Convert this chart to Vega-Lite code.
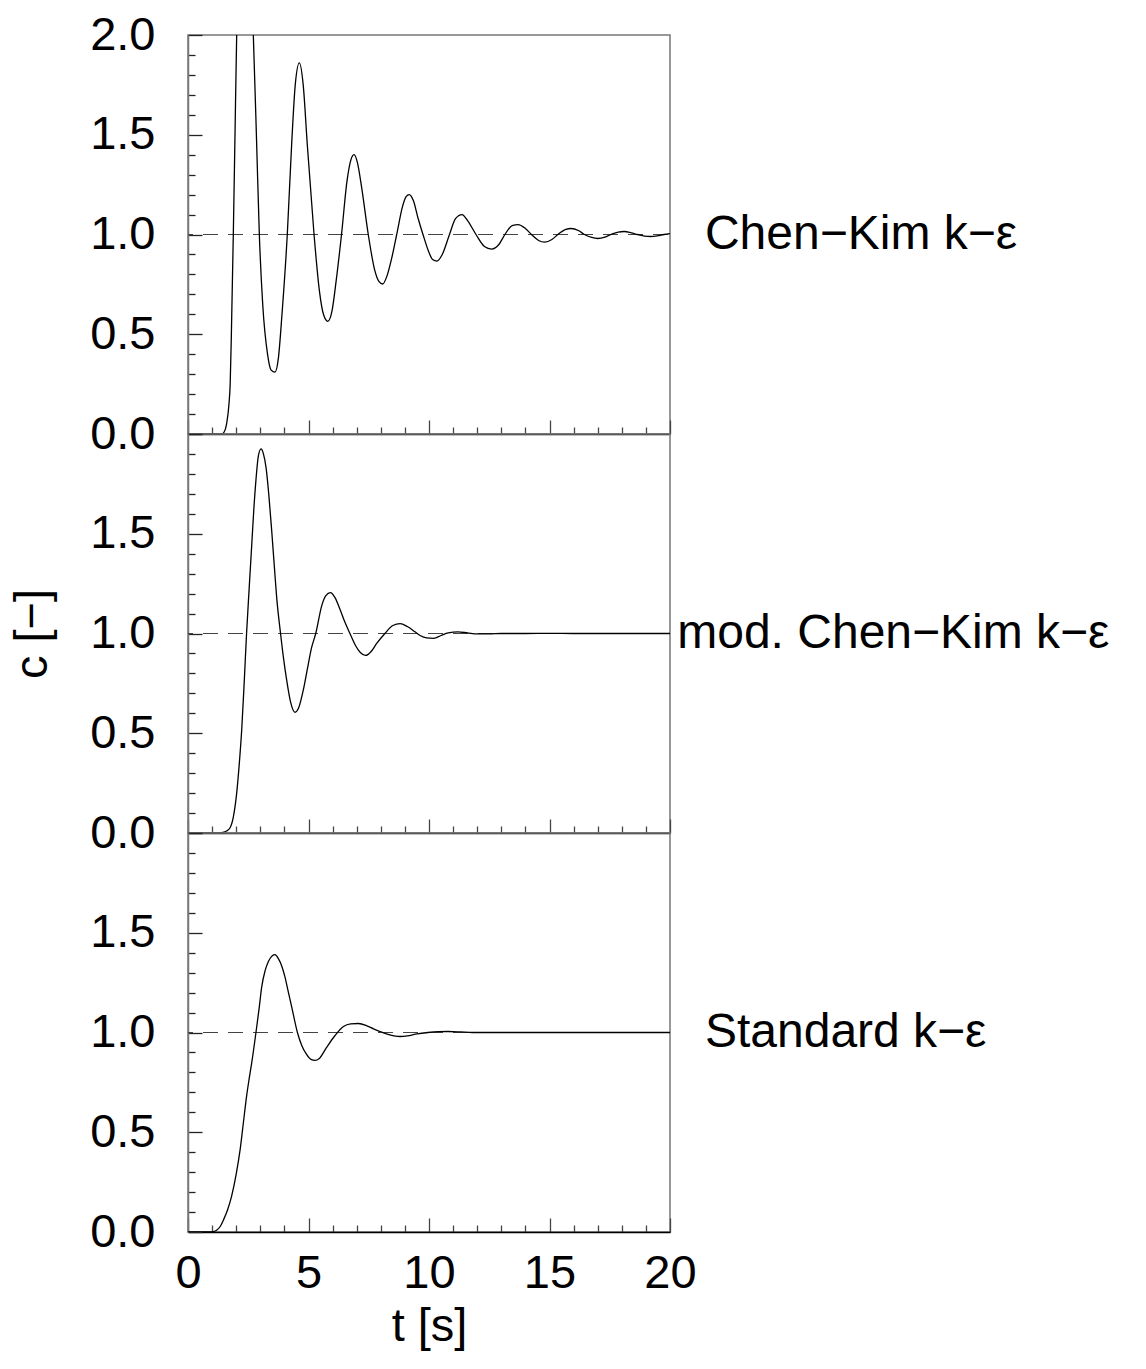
{
  "$schema": "https://vega.github.io/schema/vega-lite/v6.json",
  "padding": {"left": 7, "top": 10, "right": 5, "bottom": 5},
  "spacing": 0,
  "bounds": "flush",
  "config": {
    "font": "Liberation Sans",
    "view": {"stroke": "#777777", "strokeWidth": 1.5},
    "axis": {
      "grid": false,
      "labelFont": "Liberation Sans",
      "titleFont": "Liberation Sans",
      "labelFontSize": 47,
      "titleFontSize": 47,
      "titleFontWeight": "normal",
      "labelColor": "black",
      "titleColor": "black",
      "labelOverlap": false,
      "labelFlush": false,
      "labelBound": false,
      "tickCount": 100
    }
  },
  "datasets": {
    "curves": [
      {"model": "ck", "t": 0, "c": 0}, {"model": "ck", "t": 1.0, "c": 0}, {"model": "ck", "t": 1.4, "c": 0},
      {"model": "ck", "t": 1.5, "c": 0.01}, {"model": "ck", "t": 1.6, "c": 0.05}, {"model": "ck", "t": 1.7, "c": 0.15},
      {"model": "ck", "t": 1.75, "c": 0.25}, {"model": "ck", "t": 1.8, "c": 0.5}, {"model": "ck", "t": 1.88, "c": 1.0},
      {"model": "ck", "t": 1.95, "c": 1.5}, {"model": "ck", "t": 2.02, "c": 2.0}, {"model": "ck", "t": 2.15, "c": 2.4},
      {"model": "ck", "t": 2.35, "c": 2.6}, {"model": "ck", "t": 2.55, "c": 2.4}, {"model": "ck", "t": 2.71, "c": 2.0},
      {"model": "ck", "t": 2.85, "c": 1.45}, {"model": "ck", "t": 2.96, "c": 1.0}, {"model": "ck", "t": 3.1, "c": 0.65},
      {"model": "ck", "t": 3.3, "c": 0.4}, {"model": "ck", "t": 3.45, "c": 0.32}, {"model": "ck", "t": 3.61, "c": 0.31},
      {"model": "ck", "t": 3.75, "c": 0.38}, {"model": "ck", "t": 3.9, "c": 0.6}, {"model": "ck", "t": 4.12, "c": 1.0},
      {"model": "ck", "t": 4.3, "c": 1.45}, {"model": "ck", "t": 4.45, "c": 1.75}, {"model": "ck", "t": 4.62, "c": 1.86},
      {"model": "ck", "t": 4.78, "c": 1.75}, {"model": "ck", "t": 4.95, "c": 1.45}, {"model": "ck", "t": 5.23, "c": 1.0},
      {"model": "ck", "t": 5.45, "c": 0.72}, {"model": "ck", "t": 5.62, "c": 0.6}, {"model": "ck", "t": 5.8, "c": 0.565},
      {"model": "ck", "t": 5.98, "c": 0.62}, {"model": "ck", "t": 6.15, "c": 0.77}, {"model": "ck", "t": 6.37, "c": 1.0},
      {"model": "ck", "t": 6.6, "c": 1.27}, {"model": "ck", "t": 6.75, "c": 1.37}, {"model": "ck", "t": 6.89, "c": 1.4},
      {"model": "ck", "t": 7.03, "c": 1.36}, {"model": "ck", "t": 7.2, "c": 1.24}, {"model": "ck", "t": 7.48, "c": 1.0},
      {"model": "ck", "t": 7.75, "c": 0.82}, {"model": "ck", "t": 7.92, "c": 0.765}, {"model": "ck", "t": 8.08, "c": 0.752},
      {"model": "ck", "t": 8.25, "c": 0.79}, {"model": "ck", "t": 8.45, "c": 0.88}, {"model": "ck", "t": 8.66, "c": 1.0},
      {"model": "ck", "t": 8.9, "c": 1.14}, {"model": "ck", "t": 9.05, "c": 1.19}, {"model": "ck", "t": 9.18, "c": 1.2},
      {"model": "ck", "t": 9.35, "c": 1.17}, {"model": "ck", "t": 9.55, "c": 1.08}, {"model": "ck", "t": 9.75, "c": 1.0},
      {"model": "ck", "t": 10.0, "c": 0.91}, {"model": "ck", "t": 10.15, "c": 0.875}, {"model": "ck", "t": 10.33, "c": 0.867},
      {"model": "ck", "t": 10.55, "c": 0.9}, {"model": "ck", "t": 10.85, "c": 1.0}, {"model": "ck", "t": 11.1, "c": 1.08},
      {"model": "ck", "t": 11.37, "c": 1.1}, {"model": "ck", "t": 11.6, "c": 1.07}, {"model": "ck", "t": 11.95, "c": 1.0},
      {"model": "ck", "t": 12.3, "c": 0.94}, {"model": "ck", "t": 12.6, "c": 0.927}, {"model": "ck", "t": 12.9, "c": 0.95},
      {"model": "ck", "t": 13.15, "c": 1.0}, {"model": "ck", "t": 13.45, "c": 1.045}, {"model": "ck", "t": 13.7, "c": 1.05},
      {"model": "ck", "t": 14.0, "c": 1.03}, {"model": "ck", "t": 14.25, "c": 1.0}, {"model": "ck", "t": 14.55, "c": 0.97},
      {"model": "ck", "t": 14.8, "c": 0.962}, {"model": "ck", "t": 15.1, "c": 0.975}, {"model": "ck", "t": 15.35, "c": 1.0},
      {"model": "ck", "t": 15.65, "c": 1.025}, {"model": "ck", "t": 15.9, "c": 1.03}, {"model": "ck", "t": 16.2, "c": 1.02},
      {"model": "ck", "t": 16.45, "c": 1.0}, {"model": "ck", "t": 16.75, "c": 0.985}, {"model": "ck", "t": 17.0, "c": 0.98},
      {"model": "ck", "t": 17.3, "c": 0.987}, {"model": "ck", "t": 17.55, "c": 1.0}, {"model": "ck", "t": 17.85, "c": 1.012},
      {"model": "ck", "t": 18.1, "c": 1.015}, {"model": "ck", "t": 18.4, "c": 1.008}, {"model": "ck", "t": 18.65, "c": 1.0},
      {"model": "ck", "t": 18.95, "c": 0.992}, {"model": "ck", "t": 19.2, "c": 0.99}, {"model": "ck", "t": 19.5, "c": 0.994},
      {"model": "ck", "t": 19.75, "c": 1.0}, {"model": "ck", "t": 20.0, "c": 1.004},

      {"model": "mod", "t": 0, "c": 0}, {"model": "mod", "t": 1.2, "c": 0}, {"model": "mod", "t": 1.45, "c": 0.003},
      {"model": "mod", "t": 1.6, "c": 0.01}, {"model": "mod", "t": 1.74, "c": 0.025}, {"model": "mod", "t": 1.88, "c": 0.08},
      {"model": "mod", "t": 2.02, "c": 0.2}, {"model": "mod", "t": 2.13, "c": 0.35}, {"model": "mod", "t": 2.23, "c": 0.52},
      {"model": "mod", "t": 2.33, "c": 0.75}, {"model": "mod", "t": 2.43, "c": 1.0}, {"model": "mod", "t": 2.54, "c": 1.23},
      {"model": "mod", "t": 2.64, "c": 1.435}, {"model": "mod", "t": 2.73, "c": 1.62}, {"model": "mod", "t": 2.82, "c": 1.77},
      {"model": "mod", "t": 2.92, "c": 1.89}, {"model": "mod", "t": 3.03, "c": 1.925}, {"model": "mod", "t": 3.13, "c": 1.9},
      {"model": "mod", "t": 3.24, "c": 1.83}, {"model": "mod", "t": 3.35, "c": 1.7}, {"model": "mod", "t": 3.47, "c": 1.52},
      {"model": "mod", "t": 3.58, "c": 1.34}, {"model": "mod", "t": 3.68, "c": 1.18}, {"model": "mod", "t": 3.84, "c": 1.0},
      {"model": "mod", "t": 3.97, "c": 0.87}, {"model": "mod", "t": 4.09, "c": 0.77}, {"model": "mod", "t": 4.25, "c": 0.66},
      {"model": "mod", "t": 4.44, "c": 0.605}, {"model": "mod", "t": 4.6, "c": 0.63}, {"model": "mod", "t": 4.79, "c": 0.72},
      {"model": "mod", "t": 4.95, "c": 0.82}, {"model": "mod", "t": 5.13, "c": 0.93}, {"model": "mod", "t": 5.3, "c": 1.0},
      {"model": "mod", "t": 5.55, "c": 1.14}, {"model": "mod", "t": 5.72, "c": 1.19}, {"model": "mod", "t": 5.91, "c": 1.205},
      {"model": "mod", "t": 6.1, "c": 1.18}, {"model": "mod", "t": 6.31, "c": 1.12}, {"model": "mod", "t": 6.5, "c": 1.06},
      {"model": "mod", "t": 6.72, "c": 1.0}, {"model": "mod", "t": 6.95, "c": 0.94}, {"model": "mod", "t": 7.15, "c": 0.905},
      {"model": "mod", "t": 7.37, "c": 0.89}, {"model": "mod", "t": 7.6, "c": 0.91}, {"model": "mod", "t": 7.83, "c": 0.95},
      {"model": "mod", "t": 8.17, "c": 1.0}, {"model": "mod", "t": 8.5, "c": 1.04}, {"model": "mod", "t": 8.8, "c": 1.05},
      {"model": "mod", "t": 9.1, "c": 1.035}, {"model": "mod", "t": 9.4, "c": 1.01}, {"model": "mod", "t": 9.63, "c": 0.99},
      {"model": "mod", "t": 9.9, "c": 0.978}, {"model": "mod", "t": 10.2, "c": 0.976}, {"model": "mod", "t": 10.5, "c": 0.99},
      {"model": "mod", "t": 10.8, "c": 1.003}, {"model": "mod", "t": 11.2, "c": 1.008}, {"model": "mod", "t": 11.6, "c": 1.003},
      {"model": "mod", "t": 12.0, "c": 0.998}, {"model": "mod", "t": 12.5, "c": 0.998}, {"model": "mod", "t": 13.0, "c": 1.0},
      {"model": "mod", "t": 14.0, "c": 1.0}, {"model": "mod", "t": 15.0, "c": 1.001}, {"model": "mod", "t": 16.0, "c": 1.0},
      {"model": "mod", "t": 17.0, "c": 1.0}, {"model": "mod", "t": 18.0, "c": 1.0}, {"model": "mod", "t": 19.0, "c": 1.0},
      {"model": "mod", "t": 20.0, "c": 1.0},

      {"model": "std", "t": 0, "c": 0}, {"model": "std", "t": 0.9, "c": 0}, {"model": "std", "t": 1.05, "c": 0.002},
      {"model": "std", "t": 1.2, "c": 0.01}, {"model": "std", "t": 1.35, "c": 0.03}, {"model": "std", "t": 1.47, "c": 0.06},
      {"model": "std", "t": 1.64, "c": 0.11}, {"model": "std", "t": 1.81, "c": 0.18}, {"model": "std", "t": 2.0, "c": 0.29},
      {"model": "std", "t": 2.16, "c": 0.41}, {"model": "std", "t": 2.3, "c": 0.55}, {"model": "std", "t": 2.43, "c": 0.68},
      {"model": "std", "t": 2.54, "c": 0.77}, {"model": "std", "t": 2.64, "c": 0.845}, {"model": "std", "t": 2.82, "c": 1.0},
      {"model": "std", "t": 2.95, "c": 1.12}, {"model": "std", "t": 3.06, "c": 1.23}, {"model": "std", "t": 3.2, "c": 1.31},
      {"model": "std", "t": 3.35, "c": 1.36}, {"model": "std", "t": 3.5, "c": 1.385}, {"model": "std", "t": 3.61, "c": 1.39},
      {"model": "std", "t": 3.75, "c": 1.37}, {"model": "std", "t": 3.9, "c": 1.33}, {"model": "std", "t": 4.02, "c": 1.28},
      {"model": "std", "t": 4.15, "c": 1.21}, {"model": "std", "t": 4.3, "c": 1.13}, {"model": "std", "t": 4.54, "c": 1.0},
      {"model": "std", "t": 4.72, "c": 0.935}, {"model": "std", "t": 4.92, "c": 0.89}, {"model": "std", "t": 5.1, "c": 0.865},
      {"model": "std", "t": 5.27, "c": 0.86}, {"model": "std", "t": 5.45, "c": 0.87}, {"model": "std", "t": 5.75, "c": 0.925},
      {"model": "std", "t": 6.1, "c": 0.985}, {"model": "std", "t": 6.45, "c": 1.03}, {"model": "std", "t": 6.75, "c": 1.043},
      {"model": "std", "t": 7.07, "c": 1.045}, {"model": "std", "t": 7.4, "c": 1.035}, {"model": "std", "t": 7.7, "c": 1.018},
      {"model": "std", "t": 7.97, "c": 1.005}, {"model": "std", "t": 8.3, "c": 0.99}, {"model": "std", "t": 8.6, "c": 0.982},
      {"model": "std", "t": 8.8, "c": 0.98}, {"model": "std", "t": 9.1, "c": 0.983}, {"model": "std", "t": 9.5, "c": 0.993},
      {"model": "std", "t": 9.96, "c": 1.0}, {"model": "std", "t": 10.4, "c": 1.004}, {"model": "std", "t": 10.8, "c": 1.005},
      {"model": "std", "t": 11.3, "c": 1.003}, {"model": "std", "t": 11.8, "c": 1.0}, {"model": "std", "t": 13.0, "c": 1.0},
      {"model": "std", "t": 14.0, "c": 1.0}, {"model": "std", "t": 15.0, "c": 1.0}, {"model": "std", "t": 16.0, "c": 1.0},
      {"model": "std", "t": 17.0, "c": 1.0}, {"model": "std", "t": 18.0, "c": 1.0}, {"model": "std", "t": 19.0, "c": 1.0},
      {"model": "std", "t": 20.0, "c": 1.0}
    ]
  },
  "vconcat": [
    {
      "width": 482,
      "height": 399,
      "layer": [
        {
          "data": {"values": [{"c": 1}]},
          "mark": {"type": "rule", "strokeDash": [15, 10], "strokeDashOffset": 23, "color": "#444444", "strokeWidth": 1.2},
          "encoding": {
            "y": {"field": "c", "type": "quantitative", "scale": {"domain": [0, 2], "nice": false}}
          }
        },
        {
          "data": {"name": "curves"},
          "transform": [{"filter": "datum.model === 'ck'"}],
          "mark": {"type": "line", "color": "black", "strokeWidth": 1.3, "interpolate": "monotone", "clip": true},
          "encoding": {
            "x": {
              "field": "t", "type": "quantitative",
              "scale": {"domain": [0, 20], "nice": false, "zero": false},
              "axis": {
                "values": [0,1,2,3,4,5,6,7,8,9,10,11,12,13,14,15,16,17,18,19,20],
                "tickCount": 100,
                "tickSize": {"condition": {"test": "datum.value % 5 === 0", "value": -14}, "value": -7},
                "labels": false,
                "title": null,
                "domainColor": "black",
                "domainWidth": 1.6,
                "tickColor": "#444444",
                "tickWidth": 1.3
              }
            },
            "y": {
              "field": "c", "type": "quantitative",
              "scale": {"domain": [0, 2], "nice": false},
              "axis": {
                "values": [0,0.1,0.2,0.3,0.4,0.5,0.6,0.7,0.8,0.9,1,1.1,1.2,1.3,1.4,1.5,1.6,1.7,1.8,1.9,2],
                "tickCount": 100,
                "tickSize": {"condition": {"test": "round(datum.value*2) === datum.value*2", "value": -14}, "value": -7},
                "labelExpr": "round(datum.value*2) === datum.value*2 ? format(datum.value, '.1f') : ''",
                "labelPadding": 47,
                "title": null,
                "domainColor": "#777777",
                "domainWidth": 1.5,
                "tickColor": "#222222",
                "tickWidth": 1.3
              }
            }
          }
        },
        {
          "data": {"values": [{"label": "Chen−Kim k−ε", "t": 21.45, "c": 1}]},
          "mark": {"type": "text", "align": "left", "baseline": "middle", "fontSize": 48, "font": "Liberation Sans", "color": "black"},
          "encoding": {
            "x": {"field": "t", "type": "quantitative", "scale": {"domain": [0, 20], "nice": false, "zero": false}},
            "y": {"field": "c", "type": "quantitative", "scale": {"domain": [0, 2], "nice": false}},
            "text": {"field": "label"}
          }
        }
      ]
    },
    {
      "width": 482,
      "height": 399,
      "layer": [
        {
          "data": {"values": [{"c": 1}]},
          "mark": {"type": "rule", "strokeDash": [15, 10], "strokeDashOffset": 23, "color": "#444444", "strokeWidth": 1.2},
          "encoding": {
            "y": {"field": "c", "type": "quantitative", "scale": {"domain": [0, 2], "nice": false}}
          }
        },
        {
          "data": {"name": "curves"},
          "transform": [{"filter": "datum.model === 'mod'"}],
          "mark": {"type": "line", "color": "black", "strokeWidth": 1.3, "interpolate": "monotone", "clip": true},
          "encoding": {
            "x": {
              "field": "t", "type": "quantitative",
              "scale": {"domain": [0, 20], "nice": false, "zero": false},
              "axis": {
                "values": [0,1,2,3,4,5,6,7,8,9,10,11,12,13,14,15,16,17,18,19,20],
                "tickCount": 100,
                "tickSize": {"condition": {"test": "datum.value % 5 === 0", "value": -14}, "value": -7},
                "labels": false,
                "title": null,
                "domainColor": "black",
                "domainWidth": 1.6,
                "tickColor": "#444444",
                "tickWidth": 1.3
              }
            },
            "y": {
              "field": "c", "type": "quantitative",
              "scale": {"domain": [0, 2], "nice": false},
              "axis": {
                "values": [0,0.1,0.2,0.3,0.4,0.5,0.6,0.7,0.8,0.9,1,1.1,1.2,1.3,1.4,1.5,1.6,1.7,1.8,1.9,2],
                "tickCount": 100,
                "tickSize": {"condition": {"test": "round(datum.value*2) === datum.value*2", "value": -14}, "value": -7},
                "labelExpr": "round(datum.value*2) === datum.value*2 && datum.value < 2 ? format(datum.value, '.1f') : ''",
                "labelPadding": 47,
                "title": "c [−]",
                "titlePadding": 33,
                "domainColor": "#777777",
                "domainWidth": 1.5,
                "tickColor": "#222222",
                "tickWidth": 1.3
              }
            }
          }
        },
        {
          "data": {"values": [{"label": "mod. Chen−Kim k−ε", "t": 20.3, "c": 1}]},
          "mark": {"type": "text", "align": "left", "baseline": "middle", "fontSize": 48, "font": "Liberation Sans", "color": "black"},
          "encoding": {
            "x": {"field": "t", "type": "quantitative", "scale": {"domain": [0, 20], "nice": false, "zero": false}},
            "y": {"field": "c", "type": "quantitative", "scale": {"domain": [0, 2], "nice": false}},
            "text": {"field": "label"}
          }
        }
      ]
    },
    {
      "width": 482,
      "height": 399,
      "layer": [
        {
          "data": {"values": [{"c": 1}]},
          "mark": {"type": "rule", "strokeDash": [15, 10], "strokeDashOffset": 23, "color": "#444444", "strokeWidth": 1.2},
          "encoding": {
            "y": {"field": "c", "type": "quantitative", "scale": {"domain": [0, 2], "nice": false}}
          }
        },
        {
          "data": {"name": "curves"},
          "transform": [{"filter": "datum.model === 'std'"}],
          "mark": {"type": "line", "color": "black", "strokeWidth": 1.3, "interpolate": "monotone", "clip": true},
          "encoding": {
            "x": {
              "field": "t", "type": "quantitative",
              "scale": {"domain": [0, 20], "nice": false, "zero": false},
              "axis": {
                "values": [0,1,2,3,4,5,6,7,8,9,10,11,12,13,14,15,16,17,18,19,20],
                "tickCount": 100,
                "tickSize": {"condition": {"test": "datum.value % 5 === 0", "value": -14}, "value": -7},
                "labelExpr": "datum.value % 5 === 0 ? format(datum.value, 'd') : ''",
                "labelPadding": 32,
                "title": "t [s]",
                "titlePadding": 0,
                "domainColor": "black",
                "domainWidth": 1.6,
                "tickColor": "#444444",
                "tickWidth": 1.3
              }
            },
            "y": {
              "field": "c", "type": "quantitative",
              "scale": {"domain": [0, 2], "nice": false},
              "axis": {
                "values": [0,0.1,0.2,0.3,0.4,0.5,0.6,0.7,0.8,0.9,1,1.1,1.2,1.3,1.4,1.5,1.6,1.7,1.8,1.9,2],
                "tickCount": 100,
                "tickSize": {"condition": {"test": "round(datum.value*2) === datum.value*2", "value": -14}, "value": -7},
                "labelExpr": "round(datum.value*2) === datum.value*2 && datum.value < 2 ? format(datum.value, '.1f') : ''",
                "labelPadding": 47,
                "title": null,
                "domainColor": "#777777",
                "domainWidth": 1.5,
                "tickColor": "#222222",
                "tickWidth": 1.3
              }
            }
          }
        },
        {
          "data": {"values": [{"label": "Standard k−ε", "t": 21.45, "c": 1}]},
          "mark": {"type": "text", "align": "left", "baseline": "middle", "fontSize": 48, "font": "Liberation Sans", "color": "black"},
          "encoding": {
            "x": {"field": "t", "type": "quantitative", "scale": {"domain": [0, 20], "nice": false, "zero": false}},
            "y": {"field": "c", "type": "quantitative", "scale": {"domain": [0, 2], "nice": false}},
            "text": {"field": "label"}
          }
        }
      ]
    }
  ]
}
